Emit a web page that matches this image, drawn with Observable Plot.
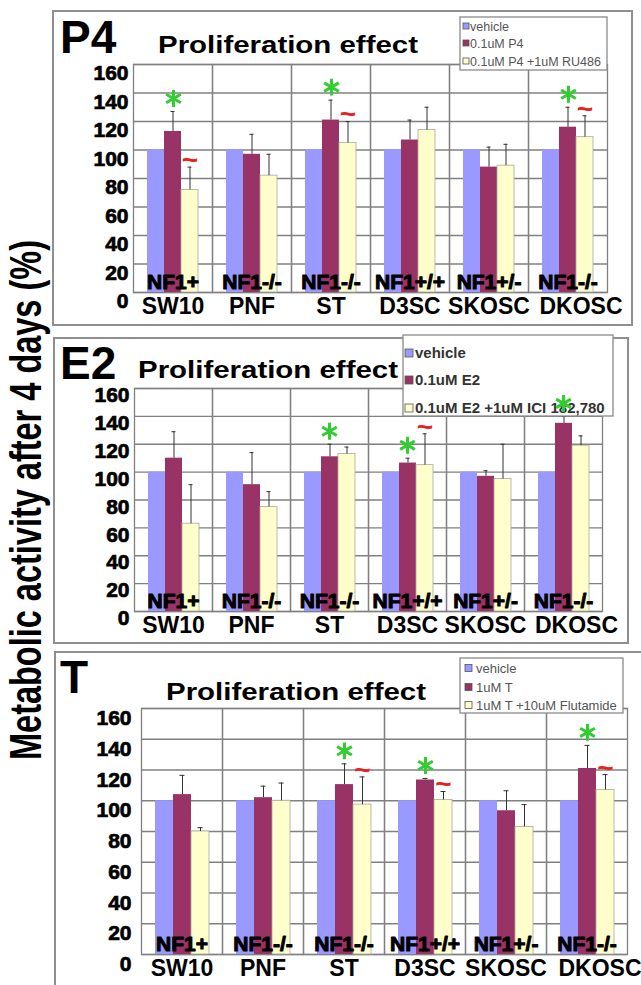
<!DOCTYPE html>
<html>
<head>
<meta charset="utf-8">
<script src="https://cdn.jsdelivr.net/npm/d3@7"></script>
<script src="https://cdn.jsdelivr.net/npm/@observablehq/plot@0.6"></script>
<style>
  html, body { margin: 0; padding: 0; background: #fff; }
  #wrap { position: relative; width: 641px; height: 985px; overflow: hidden; background: #fff; font-family: "Liberation Sans", Arial, sans-serif; }
  #wrap svg { position: absolute; }
</style>
</head>
<body>
<div id="wrap"></div>
<script>
// ---------- data ----------
const cats = ["SW10", "PNF", "ST", "D3SC", "SKOSC", "DKOSC"];
const genotypes = ["NF1+", "NF1-/-", "NF1-/-", "NF1+/+", "NF1+/-", "NF1-/-"];
const yTicks = [0, 20, 40, 60, 80, 100, 120, 140, 160];
const barColors = ["#9999FF", "#993366", "#FFFFCC"];

// P4 panel
const p4Series = ["vehicle", "0.1uM P4", "0.1uM P4 +1uM RU486"];
const p4Vehicle = [100, 100, 100, 100, 100, 100];
const p4Treat = [113, 97, 121, 107, 88, 116];
const p4TreatErr = [127, 111, 135, 121, 102, 130];
const p4Block = [72, 82, 105, 114, 89, 109];
const p4BlockErr = [88, 97, 120, 130, 104, 124];
const p4Stars = ["SW10", "ST", "DKOSC"];
const p4Tildes = ["SW10", "ST", "DKOSC"];

// E2 panel
const e2Series = ["vehicle", "0.1uM E2", "0.1uM E2 +1uM ICI 182,780"];
const e2Vehicle = [100, 100, 100, 100, 100, 100];
const e2Treat = [110, 91, 111, 106.5, 97, 135];
const e2TreatErr = [129, 114, 120, 110, 101, 140];
const e2Block = [63, 75, 113, 105, 95, 119];
const e2BlockErr = [91, 86, 118, 127.5, 120, 126];
const e2Stars = ["ST", "D3SC", "DKOSC"];
const e2Tildes = ["D3SC"];

// T panel
const tSeries = ["vehicle", "1uM T", "1uM T +10uM Flutamide"];
const tVehicle = [100, 100, 100, 100, 100, 100];
const tTreat = [104, 102, 110.5, 113.5, 93.5, 121];
const tTreatErr = [116.5, 109.5, 124, 114.5, 106.5, 136];
const tBlock = [80, 100, 97.5, 100.5, 83, 107];
const tBlockErr = [82.5, 111.5, 115.5, 106, 97.5, 117];
const tStars = ["ST", "D3SC", "DKOSC"];
const tTildes = ["ST", "D3SC", "DKOSC"];

const yLabel = "Metabolic activity after 4 days (%)";
const panelTitle = "Proliferation effect";

// ---------- layout ----------
const FONT = "'Liberation Sans', Arial, sans-serif";
const wrap = d3.select("#wrap");

const bg = wrap.append("svg").attr("width", 641).attr("height", 985).style("left", "0px").style("top", "0px");
const panelsBoxes = [
  {x: 53, y: 11, w: 579, h: 314},
  {x: 54, y: 338, w: 574, h: 305},
  {x: 55, y: 652, w: 620, h: 360}
];
for (const b of panelsBoxes) {
  bg.append("rect").attr("x", b.x).attr("y", b.y).attr("width", b.w).attr("height", b.h)
    .attr("fill", "white").attr("stroke", "#8f8f8f").attr("stroke-width", 2);
}

function place(chart, cfg) {
  chart.style.position = "absolute";
  chart.style.left = cfg.left + "px";
  chart.style.top = cfg.top + "px";
  document.getElementById("wrap").appendChild(chart);
}

const overlays = [];

function panel(cfg) {
  const rows = [];
  const genoRows = cats.map((c, i) => ({cat: c, geno: genotypes[i]}));
  const catRows = cats.map(c => ({cat: c}));
  const lastCat = cats[cats.length - 1];
  cats.forEach((c, i) => {
    rows.push({cat: c, series: cfg.series[0], value: cfg.vehicle[i]});
    rows.push({cat: c, series: cfg.series[1], value: cfg.treat[i], err: cfg.treatErr[i]});
    rows.push({cat: c, series: cfg.series[2], value: cfg.block[i], err: cfg.blockErr[i]});
  });
  const errRows = rows.filter(d => d.err != null);
  const starRows = errRows.filter(d => d.series === cfg.series[1] && cfg.stars.includes(d.cat));
  const tildeRows = errRows.filter(d => d.series === cfg.series[2] && cfg.tildes.includes(d.cat));

  const common = {
    width: cfg.width, height: cfg.height,
    marginLeft: cfg.mL, marginTop: cfg.mT, marginRight: cfg.mR, marginBottom: cfg.mB,
    x: {domain: cfg.series, paddingInner: 0, paddingOuter: 0.73, axis: null},
    color: {domain: cfg.series, range: barColors},
    style: {background: "transparent", overflow: "visible", maxWidth: "none", fontFamily: FONT, color: "black"}
  };
  const catStyle = {fx: "cat", text: "cat", frameAnchor: "bottom", lineAnchor: "top", dy: 5,
    fontSize: 23, fontWeight: "bold", fill: "black"};

  const chart = Plot.plot({
    ...common,
    fx: {domain: cats, padding: 0, axis: null},
    y: {domain: [0, 160]},
    marks: [
      Plot.gridY(yTicks, {stroke: "#808080", strokeOpacity: 1, strokeWidth: 1.3}),
      Plot.frame({stroke: "#808080", strokeWidth: 1.3}),
      Plot.barY(rows, {fx: "cat", x: "series", y: "value", fill: "series"}),
      Plot.barY(rows.filter(d => d.series === cfg.series[2]), {fx: "cat", x: "series", y: "value", fill: "none", stroke: "#a8a8a0", strokeWidth: 0.8}),
      Plot.ruleX(errRows, {fx: "cat", x: "series", y1: "value", y2: "err", stroke: "#333", strokeWidth: 1}),
      Plot.tickY(errRows, {fx: "cat", x: "series", y: "err", stroke: "#333", strokeWidth: 1, insetLeft: 6.5, insetRight: 6.5}),
      Plot.text(tildeRows, {fx: "cat", x: "series", y: "err", dy: -7, text: () => "~", fontSize: 28, fontWeight: "bold", fill: "#e8231e"}),
      Plot.text(genoRows, {fx: "cat", text: "geno", frameAnchor: "bottom", lineAnchor: "middle", dy: -10,
        fontSize: 21, fontWeight: "bold", fill: "black", stroke: "black", strokeWidth: 1}),
      Plot.text(catRows.filter(d => d.cat !== lastCat), catStyle),
      Plot.text(catRows.filter(d => d.cat === lastCat), {...catStyle, dx: 13}),
      Plot.axisY(yTicks, {tickSize: 0, tickPadding: cfg.tickPad, fontSize: 21, fontWeight: "bold", label: null, dy: cfg.tickDy})
    ]
  });
  d3.select(chart).selectAll('g[aria-label="y-axis tick label"]')
    .attr("stroke", "black").attr("stroke-width", 0.7);
  place(chart, cfg);

  // significance stars drawn in an overlay, on top of the legend boxes
  const over = Plot.plot({
    ...common,
    fx: {domain: cats, padding: 0, axis: null},
    y: {domain: [0, 160], axis: null},
    marks: [
      Plot.dot(starRows, {fx: "cat", x: "series", y: "err", dy: -13, symbol: "asterisk", r: 8, stroke: "#33cc33", strokeWidth: 3})
    ]
  });
  overlays.push([over, cfg]);
}

panel({series: p4Series, vehicle: p4Vehicle, treat: p4Treat, treatErr: p4TreatErr, block: p4Block, blockErr: p4BlockErr,
  stars: p4Stars, tildes: p4Tildes, left: 70, top: 40, width: 571, height: 282, mL: 63, mT: 24, mR: 34, mB: 30, tickDy: 9, tickPad: 5});
panel({series: e2Series, vehicle: e2Vehicle, treat: e2Treat, treatErr: e2TreatErr, block: e2Block, blockErr: e2BlockErr,
  stars: e2Stars, tildes: e2Tildes, left: 70, top: 360, width: 571, height: 281, mL: 63, mT: 28, mR: 39, mB: 30, tickDy: 7, tickPad: 5});
panel({series: tSeries, vehicle: tVehicle, treat: tTreat, treatErr: tTreatErr, block: tBlock, blockErr: tBlockErr,
  stars: tStars, tildes: tTildes, left: 70, top: 680, width: 571, height: 305, mL: 70, mT: 28, mR: 14, mB: 31, tickDy: 10, tickPad: 10});

// ---------- foreground text: titles, legends, y label ----------
const fg = wrap.append("svg").attr("width", 641).attr("height", 985).style("left", "0px").style("top", "0px")
  .style("pointer-events", "none").style("font-family", FONT);

const heads = [
  {name: "P4", x: 60, y: 53, tx: 158, ty: 53},
  {name: "E2", x: 60, y: 379, tx: 138, ty: 378},
  {name: "T", x: 60, y: 693, tx: 166, ty: 700}
];
for (const h of heads) {
  fg.append("text").attr("x", h.x).attr("y", h.y).attr("font-size", 46).attr("font-weight", "bold").text(h.name);
  fg.append("text").attr("x", h.tx).attr("y", h.ty).attr("font-size", 24).attr("font-weight", "bold")
    .attr("textLength", 260).attr("lengthAdjust", "spacingAndGlyphs").text(panelTitle);
}

const legends = [
  {series: p4Series, x: 460, y: 17, w: 147, h: 53, rows: [26, 43, 61], sx: 463, ss: 6, tx: 470, fs: 12.5, fw: "normal", fill: "#555"},
  {series: e2Series, x: 403, y: 335, w: 210, h: 81, rows: [353, 380, 408], sx: 405, ss: 8, tx: 415, fs: 15, fw: "bold", fill: "#333"},
  {series: tSeries, x: 460, y: 658, w: 163, h: 55, rows: [668, 687, 705], sx: 465, ss: 7, tx: 476, fs: 13, fw: "normal", fill: "#555"}
];
for (const L of legends) {
  fg.append("rect").attr("x", L.x).attr("y", L.y).attr("width", L.w).attr("height", L.h)
    .attr("fill", "white").attr("stroke", "#8a8a8a").attr("stroke-width", 1.3);
  L.series.forEach((s, i) => {
    fg.append("rect").attr("x", L.sx).attr("y", L.rows[i] - L.ss / 2).attr("width", L.ss).attr("height", L.ss)
      .attr("fill", barColors[i]).attr("stroke", "#555").attr("stroke-width", 0.8);
    fg.append("text").attr("x", L.tx).attr("y", L.rows[i] + L.fs * 0.36).attr("font-size", L.fs)
      .attr("font-weight", L.fw).attr("fill", L.fill).text(s);
  });
}

fg.append("text").attr("transform", "translate(41,500) rotate(-90) scale(1,1.35)")
  .attr("text-anchor", "middle").attr("font-size", 32.5).attr("font-weight", "bold").text(yLabel);

for (const [over, cfg] of overlays) place(over, cfg);
</script>
</body>
</html>
